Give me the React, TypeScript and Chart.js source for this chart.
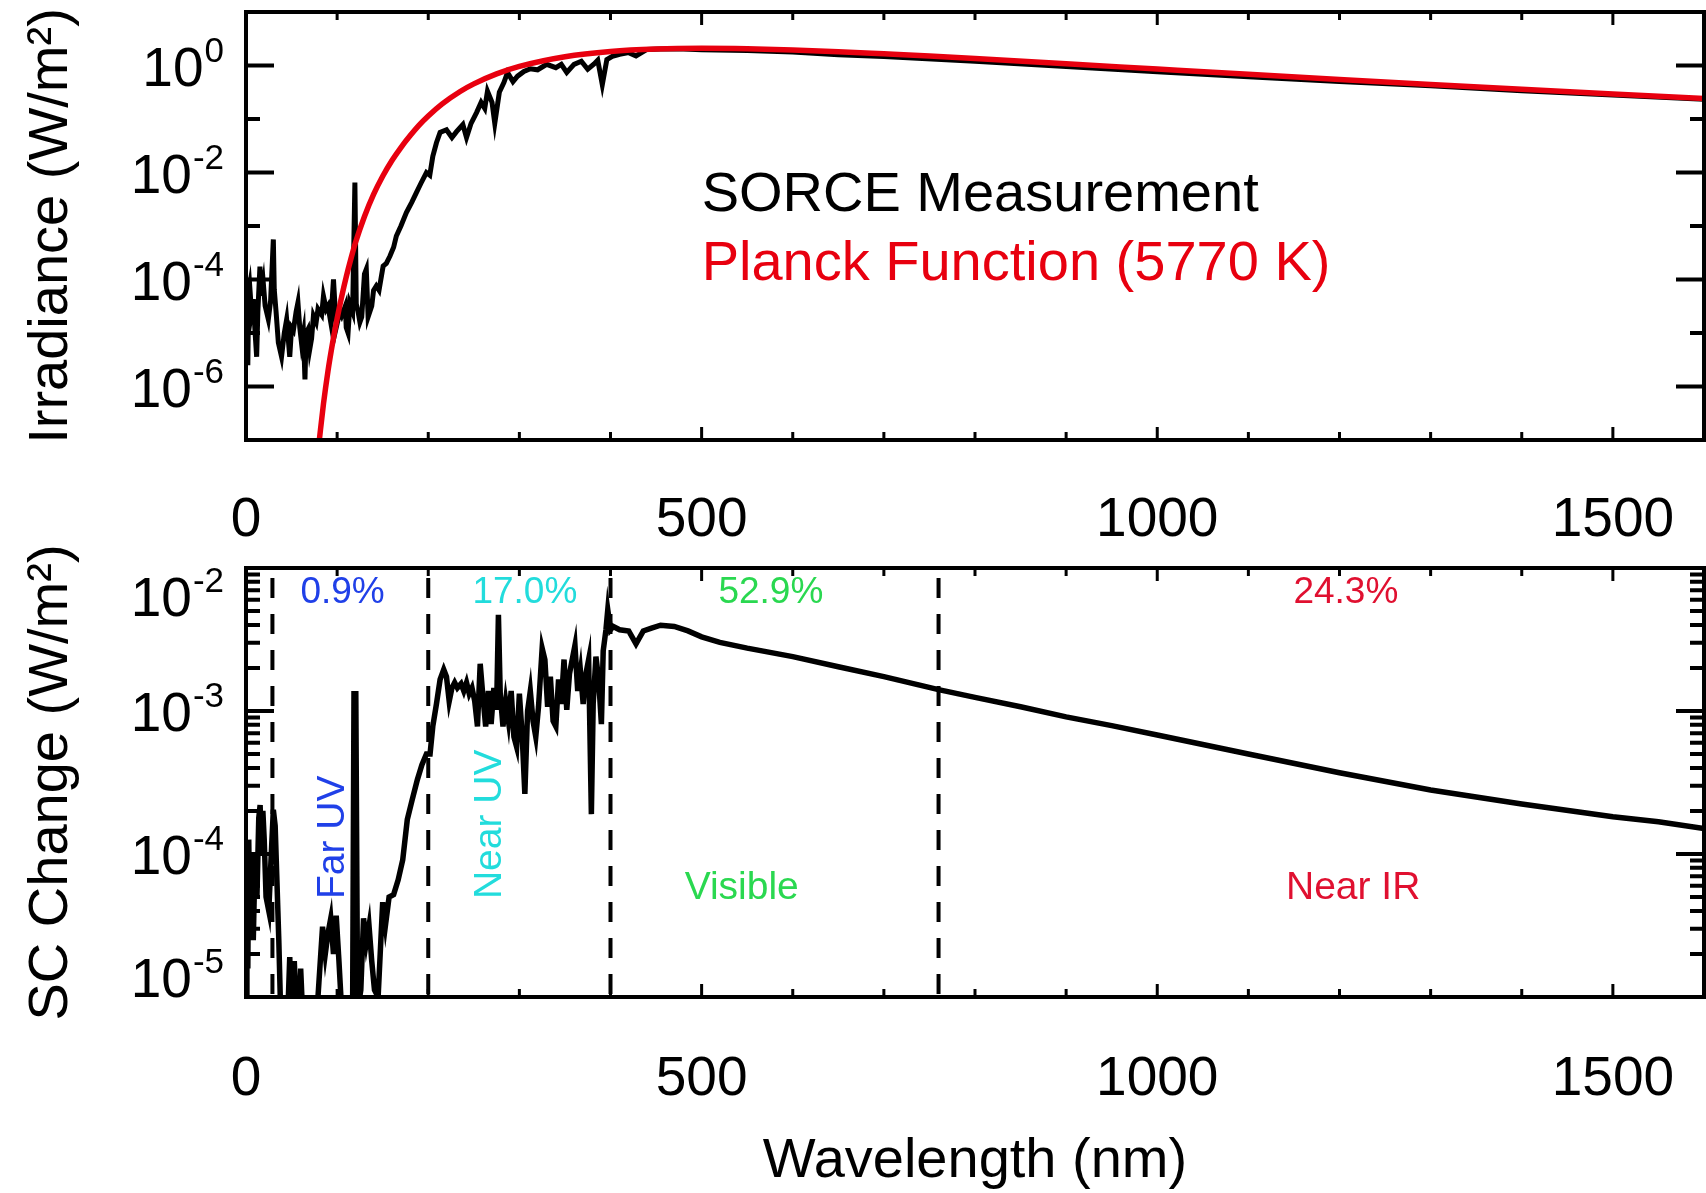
import React, { useEffect, useRef } from 'react';
import { Chart, registerables } from 'chart.js';

Chart.register(...registerables);

const FONT = '"Liberation Sans", Arial, Helvetica, sans-serif';

// ---------------- data ----------------
const wavelengthTicks = [0, 500, 1000, 1500];
const wavelengthMinorStep = 100;
const irradianceTicks = [1e-6, 1e-4, 1e-2, 1];
const scChangeTicks = [1e-5, 1e-4, 1e-3, 1e-2];

// SORCE measured solar spectral irradiance (W/m^2/nm)
const sorceWavelength = [
  0.5, 1, 1.5, 2, 3, 4, 6, 8, 10, 11.7, 13, 15.3, 17, 19, 21, 24.5, 27, 30, 31, 33,
  35.5, 39, 42, 44.6, 48, 50, 52, 55, 57, 59, 61, 63, 64.7, 66, 68, 70, 72, 74, 77, 79,
  83, 85, 88, 90, 93, 96, 99, 103, 105, 109, 110, 112, 114, 117, 119.5, 121, 123, 125, 127, 130,
  132, 134, 138, 140, 143, 146, 150.5, 154, 158, 162, 165, 170, 176, 182, 187, 192, 198, 201.7, 205, 209,
  213, 220, 226, 231, 238, 242, 247, 253, 258, 262, 265, 270, 273, 278, 283, 287, 293, 298, 305, 312,
  320, 330, 340, 346, 352, 360, 368, 375, 382, 386, 391, 396, 402, 410, 420, 428, 440, 455, 480, 500,
  550, 600, 650, 700, 800, 900, 1000, 1100, 1200, 1300, 1400, 1500, 1600,
];
const sorceIrradiance = [
  5.0e-5, 4.0e-6, 3.2e-5, 2.5e-6, 6.3e-5, 7.9e-5, 2.5e-5, 4.3e-5, 1.0e-5, 3.6e-6, 2.5e-5, 1.74e-4, 5.0e-5, 8.5e-5, 3.2e-5, 1.8e-5, 4.0e-5, 5.6e-4, 6.5e-5, 2.5e-5,
  6.6e-6, 3.6e-6, 1.0e-5, 1.8e-5, 3.6e-6, 1.26e-5, 1.12e-5, 2.5e-5, 3.7e-5, 1.26e-5, 6.3e-6, 1.0e-5, 1.35e-6, 1.0e-5, 1.17e-5, 5.0e-6, 7.9e-6, 2.1e-5, 1.6e-5, 2.8e-5,
  2.2e-5, 4.9e-5, 2.8e-5, 3.2e-5, 1.6e-5, 1.0e-4, 1.26e-5, 2.5e-5, 2.1e-5, 3.2e-5, 1.26e-5, 1.0e-5, 3.5e-5, 2.5e-5, 6.5e-3, 3.5e-5, 2.5e-5, 1.6e-5, 2.0e-5, 1.26e-4,
  1.55e-4, 2.0e-5, 3.2e-5, 6.3e-5, 7.6e-5, 6.3e-5, 1.78e-4, 2.0e-4, 2.75e-4, 4.0e-4, 6.5e-4, 1.0e-3, 1.78e-3, 2.8e-3, 4.2e-3, 6.3e-3, 1.0e-2, 8.9e-3, 2.0e-2, 3.6e-2,
  5.6e-2, 6.3e-2, 4.5e-2, 5.8e-2, 7.9e-2, 4.5e-2, 8.3e-2, 0.132, 0.204, 0.158, 0.331, 0.204, 8.3e-2, 0.316, 0.479, 0.741, 0.5, 0.631, 0.776, 0.871,
  0.832, 1.05, 0.912, 1.05, 0.741, 1.05, 1.2, 0.851, 1.07, 1.26, 0.437, 1.29, 1.48, 1.62, 1.74, 1.51, 2.0, 2.04, 2.04, 1.97,
  1.9, 1.78, 1.58, 1.48, 1.2, 0.955, 0.767, 0.617, 0.5, 0.417, 0.339, 0.282, 0.234,
];

// Planck function (5770 K), scaled
const planckWavelength = [
  78, 80, 85, 90, 95, 100, 105, 110, 115, 120, 130, 140, 150, 160, 170, 180, 190, 200, 215, 235,
  250, 275, 300, 350, 400, 450, 500, 550, 600, 650, 700, 750, 800, 900, 1000, 1100, 1200, 1300, 1400, 1500, 1600,
];
const planckIrradiance = [
  4.3e-8, 8.5e-8, 4.7e-7, 1.96e-6, 6.5e-6, 1.86e-5, 4.8e-5, 1.12e-4, 2.39e-4, 4.8e-4, 1.51e-3, 3.9e-3, 8.5e-3, 1.66e-2, 2.93e-2, 4.85e-2, 7.68e-2, 0.114, 0.19, 0.327,
  0.454, 0.698, 0.962, 1.46, 1.83, 2.03, 2.09, 2.05, 1.95, 1.81, 1.65, 1.5, 1.35, 1.08, 0.858, 0.683, 0.548, 0.442, 0.359, 0.294, 0.242,
];

// Solar-cycle change (W/m^2/nm)
const scWavelength = [
  0.5, 1, 2, 3, 4, 6, 8, 10, 12, 14, 15.5, 17, 18.5, 20, 22, 25, 27, 30, 32, 34,
  36, 38, 42, 46, 48, 50, 53, 55, 58, 60, 62, 70, 78, 80, 84, 87, 90, 93, 96, 99,
  102, 105, 117, 118.5, 120.5, 122.5, 126, 129, 132, 135, 138, 141, 145, 150, 153, 157, 162, 167, 172, 177,
  182, 188, 193, 198, 202, 205, 209, 213, 217, 220, 223, 226, 229, 232, 236, 239, 242, 245, 248, 251,
  254, 257, 260, 263, 266, 269, 272, 275, 277, 279, 282, 285, 288, 291, 294, 297, 300, 303, 306, 309,
  312, 315, 318, 321, 325, 328, 331, 334, 337, 340, 343, 346, 349, 352, 355, 358, 361, 364, 367, 370,
  373, 376, 379, 381, 384, 387, 390, 392, 395, 397, 400, 403, 410, 420, 428, 436, 445, 455, 470, 485,
  500, 520, 550, 600, 650, 700, 760, 800, 850, 900, 950, 1000, 1100, 1200, 1300, 1400, 1500, 1550, 1600,
];
const scChange = [
  8e-6, 1.0e-4, 1.58e-5, 1.26e-4, 4.0e-5, 1.0e-4, 2.5e-5, 1.0e-4, 5.0e-5, 1.78e-4, 2.2e-4, 1.0e-4, 2.0e-4, 1.26e-4, 5.0e-5, 4.0e-5, 7.9e-5, 2.04e-4, 1.58e-4, 6.3e-5,
  2.5e-5, 8e-6, 8e-6, 8e-6, 1.9e-5, 8e-6, 1.78e-5, 8e-6, 8e-6, 1.58e-5, 8e-6, 8e-6, 8e-6, 1.26e-5, 3.1e-5, 2.0e-5, 2.8e-5, 3.55e-5, 2.0e-5, 3.7e-5,
  1.78e-5, 8e-6, 8e-6, 1.32e-3, 1.32e-3, 8e-6, 1.12e-5, 3.55e-5, 2.4e-5, 3.16e-5, 1.78e-5, 1.12e-5, 1.0e-5, 4.6e-5, 3.16e-5, 5.0e-5, 5.2e-5, 6.6e-5, 9.1e-5, 1.74e-4,
  2.34e-4, 3.3e-4, 4.2e-4, 5.0e-4, 5.0e-4, 7.8e-4, 1.12e-3, 1.66e-3, 1.95e-3, 1.74e-3, 1.17e-3, 1.45e-3, 1.58e-3, 1.45e-3, 1.55e-3, 1.38e-3, 1.58e-3, 1.32e-3, 1.45e-3, 1.17e-3,
  7.8e-4, 2.14e-3, 1.26e-3, 7.8e-4, 1.38e-3, 8.1e-4, 1.45e-3, 1.02e-3, 4.7e-3, 1.32e-3, 7.8e-4, 1.17e-3, 8.5e-4, 1.38e-3, 6.6e-4, 5.6e-4, 1.32e-3, 6.9e-4, 2.63e-4, 1.0e-3,
  1.38e-3, 8.5e-4, 6.6e-4, 1.07e-3, 2.75e-3, 2.29e-3, 1.07e-3, 1.74e-3, 8.5e-4, 7.8e-4, 1.66e-3, 1.12e-3, 2.29e-3, 1.02e-3, 1.82e-3, 2.29e-3, 2.88e-3, 1.38e-3, 1.9e-3, 1.12e-3,
  1.82e-3, 2.29e-3, 1.9e-4, 1.12e-3, 2.4e-3, 1.66e-3, 8.1e-4, 2.63e-3, 3.7e-3, 5.1e-3, 3.7e-3, 3.9e-3, 3.7e-3, 3.63e-3, 2.95e-3, 3.63e-3, 3.8e-3, 3.98e-3, 3.9e-3, 3.63e-3,
  3.3e-3, 3.02e-3, 2.75e-3, 2.4e-3, 2.04e-3, 1.74e-3, 1.41e-3, 1.245e-3, 1.07e-3, 9.1e-4, 7.9e-4, 6.8e-4, 5.0e-4, 3.7e-4, 2.8e-4, 2.24e-4, 1.82e-4, 1.68e-4, 1.51e-4,
];

// spectral band boundaries (nm), names and share of the total change
const bandEdges = [29, 200, 400, 760];
const bandNames = ['Far UV', 'Near UV', 'Visible', 'Near IR'];
const bandShares = ['0.9%', '17.0%', '52.9%', '24.3%'];

// ---------------- styling / layout ----------------
const RED = '#e8000f';
const BAND_COLORS = ['#2040e8', '#22dcdc', '#2ad850', '#e01030'];

const toPoints = (xs: number[], ys: number[]) => xs.map((x, i) => ({ x, y: ys[i] }));

type Note = { text: string; color: string; x: number; y: number; size: number; align: CanvasTextAlign; rotate?: boolean };

const zeroPad = (s: any) => {
  s.paddingLeft = 0;
  s.paddingRight = 0;
  s.paddingTop = 0;
  s.paddingBottom = 0;
};

const makeFrame = (logMinor: boolean) => ({
  id: 'frame',
  afterDatasetsDraw(chart: any) {
    const { ctx, chartArea: a } = chart;
    const xs = chart.scales.x;
    const ys = chart.scales.y;
    ctx.save();
    ctx.strokeStyle = '#000';
    ctx.lineCap = 'butt';
    ctx.lineWidth = 3;
    ctx.beginPath();
    for (let v = xs.min; v <= xs.max + 1e-9; v += wavelengthMinorStep) {
      const px = xs.getPixelForValue(v);
      const len = wavelengthTicks.includes(v) ? 13 : 8;
      ctx.moveTo(px, a.bottom);
      ctx.lineTo(px, a.bottom - len);
      ctx.moveTo(px, a.top);
      ctx.lineTo(px, a.top + len);
    }
    ctx.stroke();
    ctx.lineWidth = 4;
    ctx.beginPath();
    const tick = (val: number, len: number) => {
      const py = ys.getPixelForValue(val);
      ctx.moveTo(a.left, py);
      ctx.lineTo(a.left + len, py);
      ctx.moveTo(a.right, py);
      ctx.lineTo(a.right - len, py);
    };
    const d0 = Math.round(Math.log10(ys.min));
    const d1 = Math.round(Math.log10(ys.max));
    for (let d = d0; d <= d1; d++) {
      if (d > d0 && d < d1) {
        const major = logMinor ? true : d % 2 === 0;
        tick(Math.pow(10, d), major ? 28 : 14);
      }
      if (logMinor && d < d1) {
        for (let k = 2; k <= 9; k++) tick(k * Math.pow(10, d), 14);
      }
    }
    ctx.stroke();
    ctx.lineWidth = 4;
    ctx.strokeRect(a.left, a.top, a.right - a.left, a.bottom - a.top);
    ctx.restore();
  },
});

// y tick labels of the form 10^n, drawn at the positions of the scale's ticks
const powerLabels = {
  id: 'powerLabels',
  afterDraw(chart: any) {
    const { ctx, chartArea: a } = chart;
    const ys = chart.scales.y;
    const right = a.left - 22;
    ctx.save();
    ctx.fillStyle = '#000';
    ctx.textBaseline = 'alphabetic';
    ys.ticks.forEach((t: any) => {
      const exp = String(Math.round(Math.log10(t.value)));
      let py = ys.getPixelForValue(t.value);
      py = Math.min(Math.max(py, a.top + 28), a.bottom - 20);
      const base = py + 20;
      ctx.font = `35px ${FONT}`;
      const ew = ctx.measureText(exp).width;
      ctx.textAlign = 'left';
      ctx.fillText(exp, right - ew, base - 24);
      ctx.font = `55px ${FONT}`;
      ctx.textAlign = 'right';
      ctx.fillText('10', right - ew - 1, base);
    });
    ctx.restore();
  },
};

const makeNotes = (notes: Note[]) => ({
  id: 'notes',
  afterDatasetsDraw(chart: any) {
    const { ctx } = chart;
    const xs = chart.scales.x;
    const ys = chart.scales.y;
    notes.forEach((n) => {
      ctx.save();
      ctx.font = `${n.size}px ${FONT}`;
      ctx.fillStyle = n.color;
      ctx.textAlign = n.align;
      ctx.textBaseline = 'alphabetic';
      ctx.translate(xs.getPixelForValue(n.x), ys.getPixelForValue(n.y));
      if (n.rotate) ctx.rotate(-Math.PI / 2);
      ctx.fillText(n.text, 0, 0);
      ctx.restore();
    });
  },
});

const xScale = (height: number, padding: number, title?: string) => ({
  type: 'linear' as const,
  min: 0,
  max: 1600,
  afterBuildTicks: (s: any) => {
    s.ticks = wavelengthTicks.map((value) => ({ value }));
  },
  afterFit: (s: any) => {
    s.height = height;
    zeroPad(s);
  },
  grid: { display: false, drawTicks: false },
  border: { display: false },
  ticks: {
    font: { family: FONT, size: 55 },
    color: '#000',
    padding,
    maxRotation: 0,
    autoSkip: false,
    callback: (v: any) => String(v),
  },
  title: title
    ? {
        display: true,
        text: title,
        color: '#000',
        font: { family: FONT, size: 56, lineHeight: 1.0 },
        padding: { top: 0, bottom: 3 },
      }
    : { display: false },
});

const yScale = (min: number, max: number, ticks: number[], title: string) => ({
  type: 'logarithmic' as const,
  min,
  max,
  afterBuildTicks: (s: any) => {
    s.ticks = ticks.map((value) => ({ value }));
  },
  afterFit: (s: any) => {
    s.width = 246;
    zeroPad(s);
  },
  grid: { display: false, drawTicks: false },
  border: { display: false },
  ticks: { display: false, autoSkip: false },
  title: {
    display: true,
    text: title,
    color: '#000',
    font: { family: FONT, size: 56 },
    padding: { top: 18, bottom: 0 },
  },
});

const baseOptions = {
  animation: false as const,
  responsive: false,
  devicePixelRatio: 1,
  events: [] as any[],
  plugins: { legend: { display: false }, tooltip: { enabled: false } },
};

export default function App() {
  const topRef = useRef<HTMLCanvasElement | null>(null);
  const botRef = useRef<HTMLCanvasElement | null>(null);

  useEffect(() => {
    if (!topRef.current || !botRef.current) return;

    const topNotes: Note[] = [
      { text: 'SORCE Measurement', color: '#000', x: 500, y: 1.9e-3, size: 56, align: 'left' },
      { text: 'Planck Function (5770 K)', color: RED, x: 500, y: 9.8e-5, size: 56, align: 'left' },
    ];

    const shareX = [106, 306, 576, 1207];
    const nameX = [107, 280, 544, 1215];
    const botNotes: Note[] = [];
    bandShares.forEach((t, i) =>
      botNotes.push({ text: t, color: BAND_COLORS[i], x: shareX[i], y: 5.7e-3, size: 37, align: 'center' })
    );
    bandNames.forEach((t, i) =>
      botNotes.push({
        text: t,
        color: BAND_COLORS[i],
        x: nameX[i],
        y: 4.84e-5,
        size: 39,
        align: i < 2 ? 'left' : 'center',
        rotate: i < 2,
      })
    );

    const top = new Chart(topRef.current, {
      type: 'line',
      data: {
        datasets: [
          {
            label: 'Planck Function (5770 K)',
            data: toPoints(planckWavelength, planckIrradiance),
            borderColor: RED,
            borderWidth: 5.5,
            pointRadius: 0,
            cubicInterpolationMode: 'monotone',
          },
          {
            label: 'SORCE Measurement',
            data: toPoints(sorceWavelength, sorceIrradiance),
            borderColor: '#000',
            borderWidth: 5,
            pointRadius: 0,
            tension: 0,
          },
        ],
      },
      options: {
        ...baseOptions,
        layout: { padding: { top: 12, right: 2, left: 0, bottom: 0 } },
        scales: {
          x: xScale(110, 48),
          y: yScale(1e-7, 10, irradianceTicks, 'Irradiance (W/m\u00B2)'),
        },
      } as any,
      plugins: [makeFrame(false), makeNotes(topNotes), powerLabels],
    });

    const yLo = scChangeTicks[0];
    const yHi = scChangeTicks[scChangeTicks.length - 1];
    const bot = new Chart(botRef.current, {
      type: 'line',
      data: {
        datasets: [
          {
            label: 'SC Change',
            data: toPoints(scWavelength, scChange),
            borderColor: '#000',
            borderWidth: 5.5,
            pointRadius: 0,
            tension: 0,
          },
          ...bandEdges.map((e) => ({
            label: 'edge ' + e,
            data: [
              { x: e, y: yHi },
              { x: e, y: yLo },
            ],
            borderColor: '#000',
            borderWidth: 4,
            borderDash: [20, 16],
            borderDashOffset: -10,
            pointRadius: 0,
          })),
        ],
      },
      options: {
        ...baseOptions,
        layout: { padding: { top: 38, right: 2, left: 0, bottom: 0 } },
        scales: {
          x: xScale(196, 50, 'Wavelength (nm)'),
          y: yScale(yLo, yHi, scChangeTicks, 'SC Change (W/m\u00B2)'),
        },
      } as any,
      plugins: [makeFrame(true), makeNotes(botNotes), powerLabels],
    });

    return () => {
      top.destroy();
      bot.destroy();
    };
  }, []);

  return (
    <div
      style={{
        position: 'absolute',
        left: 0,
        top: 0,
        width: 1706,
        height: 1193,
        background: '#fff',
        overflow: 'hidden',
      }}
    >
      <canvas
        ref={topRef}
        width={1706}
        height={550}
        style={{ position: 'absolute', left: 0, top: 0, width: 1706, height: 550 }}
      />
      <canvas
        ref={botRef}
        width={1706}
        height={663}
        style={{ position: 'absolute', left: 0, top: 530, width: 1706, height: 663 }}
      />
    </div>
  );
}
